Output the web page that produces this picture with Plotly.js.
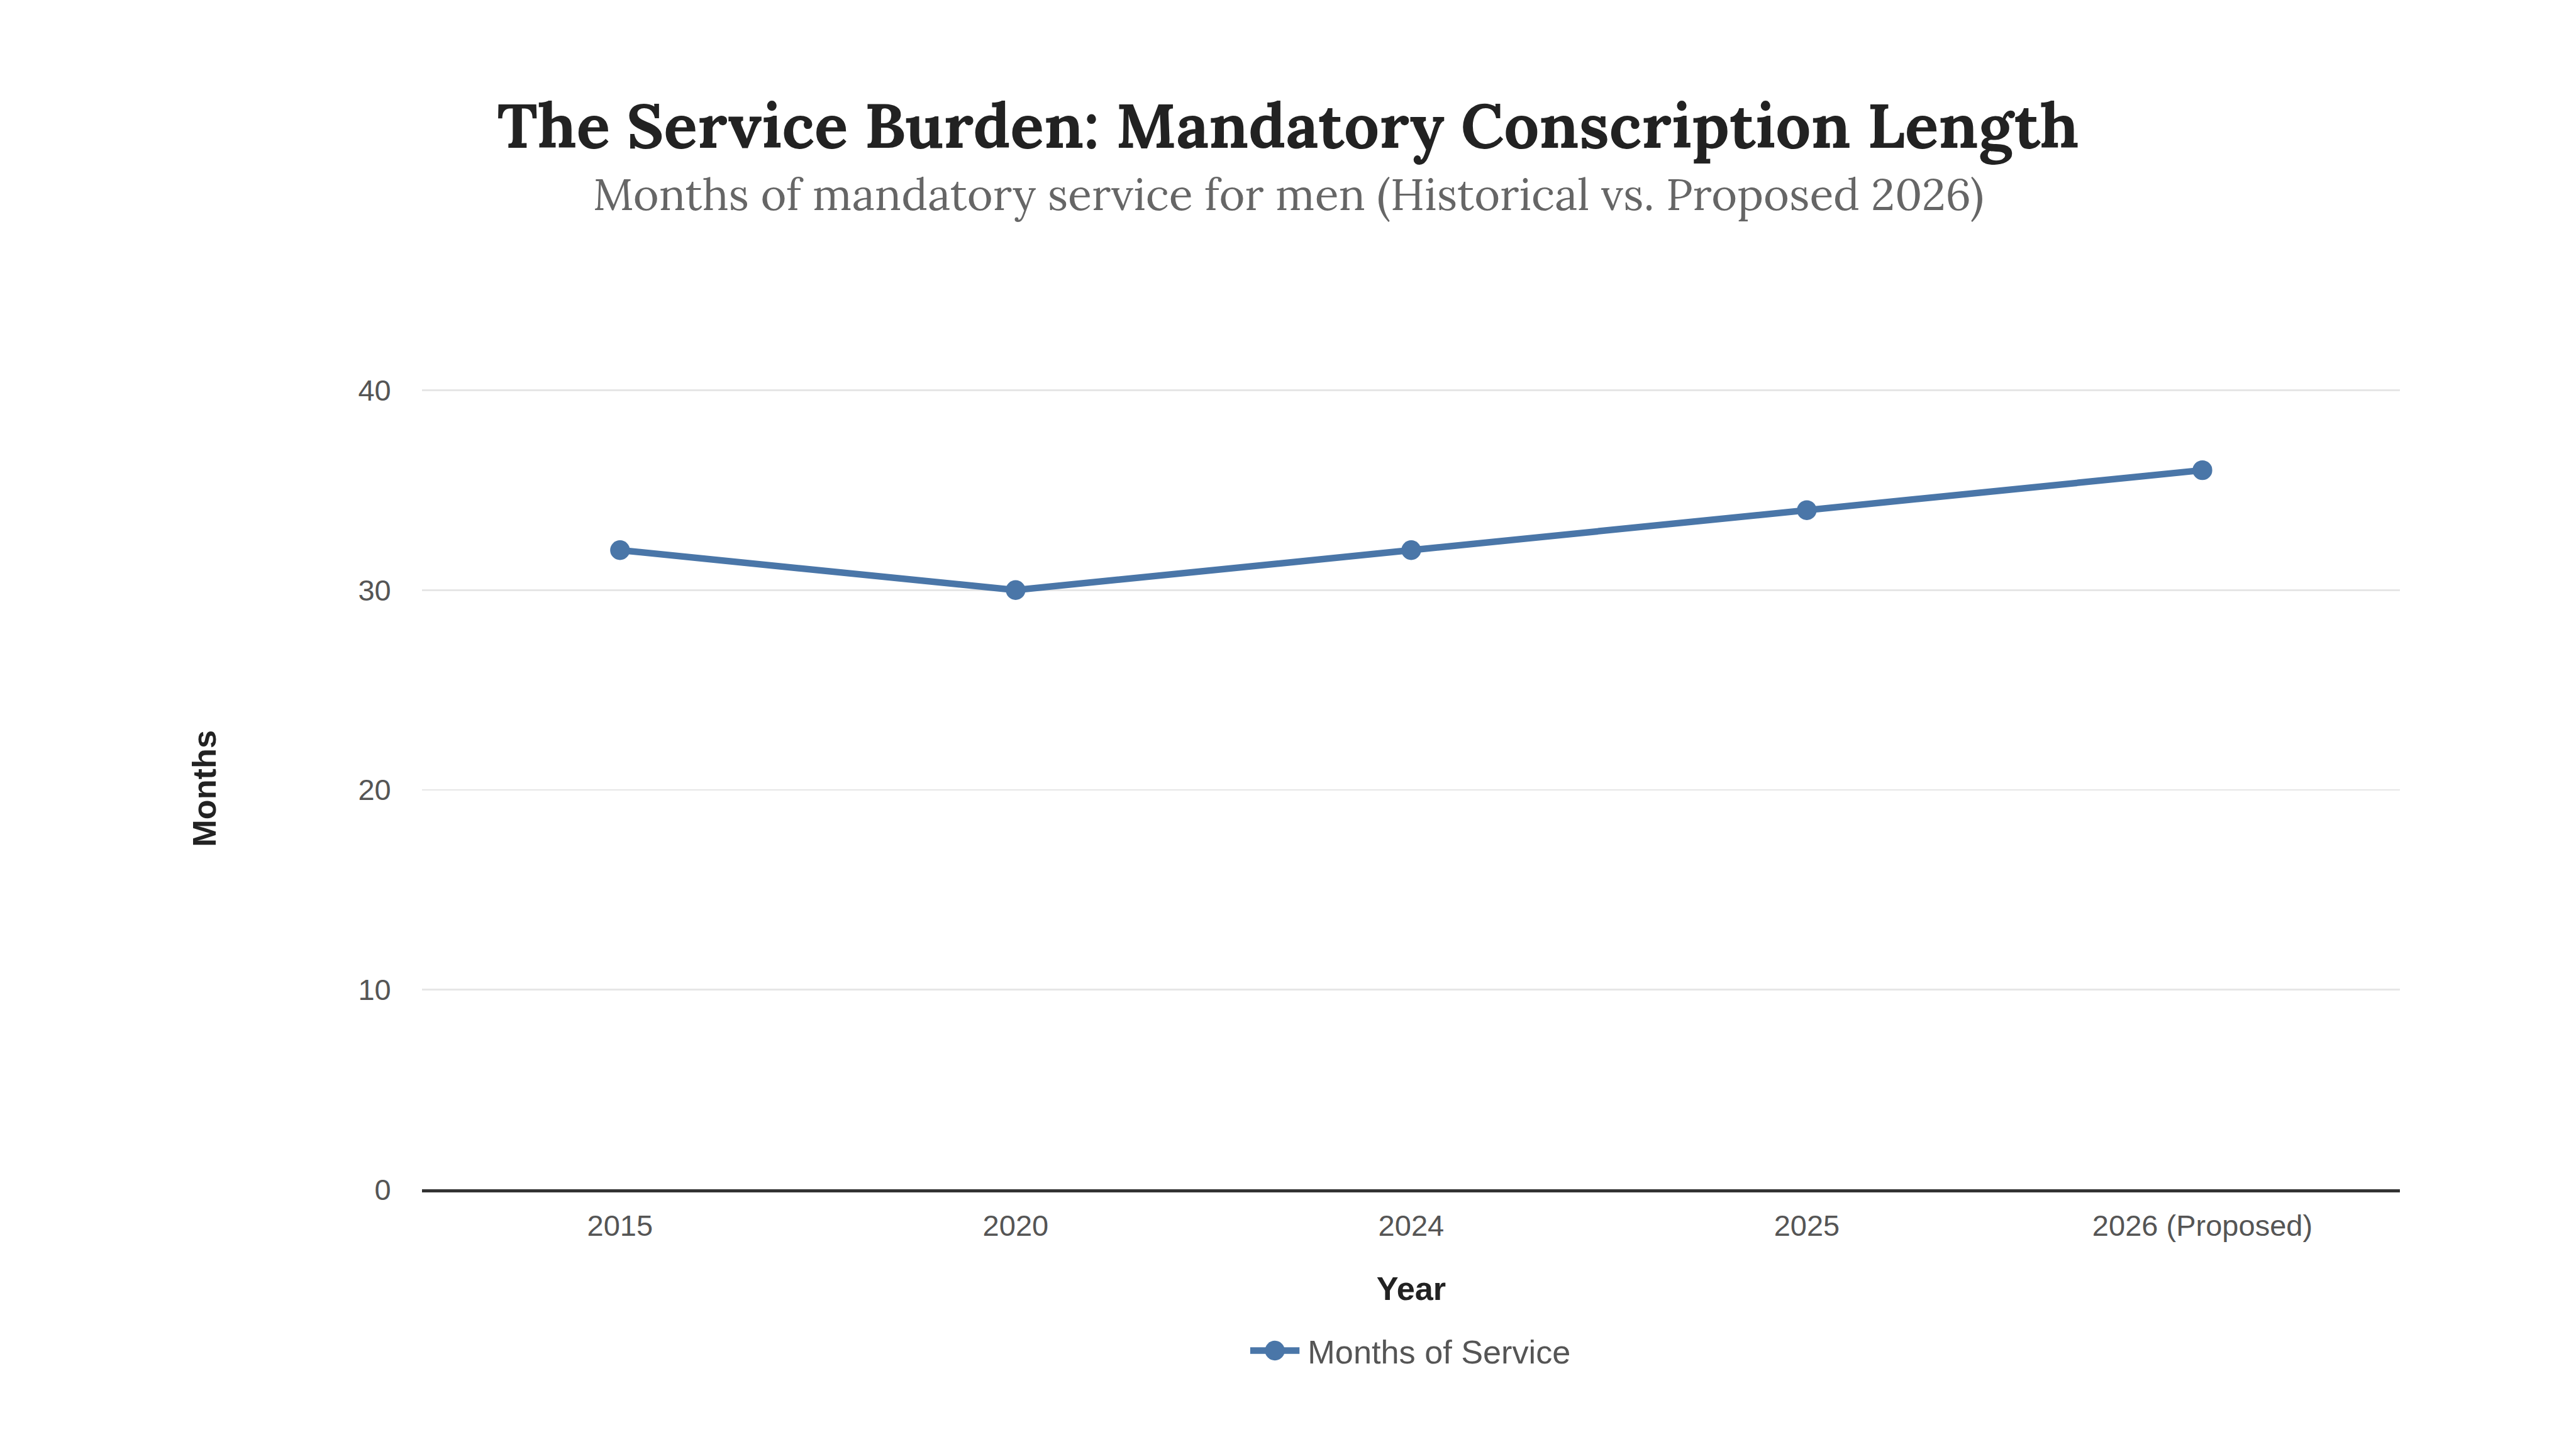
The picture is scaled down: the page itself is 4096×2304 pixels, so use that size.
<!DOCTYPE html>
<html>
<head>
<meta charset="utf-8">
<script src="https://cdn.plot.ly/plotly-3.0.1.min.js"></script>
<style>
html,body{margin:0;padding:0;background:#fff;overflow:hidden;width:4096px;height:2304px;}
#chart{width:1568px;height:882px;transform:scale(2.61224);transform-origin:0 0;}
</style>
</head>
<body>
<div id="chart"></div>
<script>
const years = ["2015", "2020", "2024", "2025", "2026 (Proposed)"];
const months = [32, 30, 32, 34, 36];
const yTicks = [0, 10, 20, 30, 40];
const seriesName = "Months of Service";
const titleText = "The Service Burden: Mandatory Conscription Length";
const subtitleText = "Months of mandatory service for men (Historical vs. Proposed 2026)";

const blue = "#4a76a8";
const sans = "'Liberation Sans', Arial, Helvetica, sans-serif";
const serif = "Lora, 'Liberation Serif', 'DejaVu Serif', serif";

const W = 1568, H = 882;
const yTop = 40.13;
const plotBottom = 724;
const plotH = 486 * yTop / 40;
const M = {l: 257, r: 107, t: plotBottom - plotH, b: H - plotBottom};

const trace = {
  type: "scatter",
  mode: "lines+markers",
  x: years,
  y: months,
  name: seriesName,
  line: {color: blue, width: 4},
  marker: {color: blue, size: 12},
  showlegend: true
};

const layout = {
  width: W,
  height: H,
  paper_bgcolor: "#ffffff",
  plot_bgcolor: "#ffffff",
  margin: {l: M.l, r: M.r, t: M.t, b: M.b, autoexpand: false},
  showlegend: true,
  title: {
    text: "<b>" + titleText + "</b>",
    font: {family: serif, size: 38, color: "#222222"},
    x: 0.5, xanchor: "center", xref: "container",
    y: 1 - 90 / H, yanchor: "bottom", yref: "container"
  },
  annotations: [{
    text: subtitleText,
    xref: "paper", yref: "paper",
    x: (784 - M.l) / (W - M.l - M.r), xanchor: "center",
    y: (plotBottom - 139) / plotH, yanchor: "bottom",
    showarrow: false,
    font: {family: serif, size: 26.8, color: "#666666"}
  }],
  xaxis: {
    type: "category",
    range: [-0.5, 4.5],
    showgrid: false,
    showline: true,
    linecolor: "#333333",
    linewidth: 1.5,
    ticks: "",
    ticklabelstandoff: 5,
    tickfont: {family: sans, size: 18, color: "#555555"},
    title: {text: "<b>Year</b>", font: {family: sans, size: 20, color: "#222222"}, standoff: 22},
    automargin: false,
    zeroline: false
  },
  yaxis: {
    range: [0, yTop],
    tickvals: yTicks,
    ticktext: yTicks.map(String),
    showgrid: true,
    gridcolor: "#e6e6e6",
    gridwidth: 1,
    zeroline: true,
    zerolinecolor: "#333333",
    zerolinewidth: 1.5,
    showline: false,
    ticks: "",
    ticklabelstandoff: 18,
    tickfont: {family: sans, size: 18, color: "#555555"},
    title: {text: "<b>Months</b>", font: {family: sans, size: 20, color: "#222222"}, standoff: 80},
    automargin: false
  },
  legend: {
    orientation: "h",
    x: 0.5, xanchor: "center",
    y: (plotBottom - 822) / plotH, yanchor: "middle",
    font: {family: sans, size: 20, color: "#555555"},
    bgcolor: "rgba(0,0,0,0)"
  }
};

Plotly.newPlot("chart", [trace], layout, {displayModeBar: false, responsive: false});
</script>
</body>
</html>
